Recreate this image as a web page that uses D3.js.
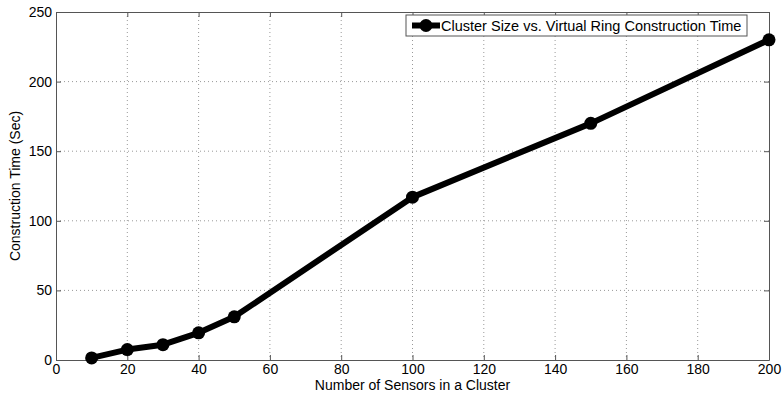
<!DOCTYPE html>
<html>
<head>
<meta charset="utf-8">
<script src="https://cdn.jsdelivr.net/npm/d3@7"></script>
<style>
  body { margin: 0; background: #fff; }
  svg text { font-family: "Liberation Sans", Arial, sans-serif; }
</style>
</head>
<body>
<svg id="chart" width="782" height="397"></svg>
<script>
// cluster sizes and measured construction times
const sensors = [10, 20, 30, 40, 50, 100, 150, 200];
const times = [1.5, 7.5, 11, 19.5, 31, 117, 170, 230];
const xTicks = [0, 20, 40, 60, 80, 100, 120, 140, 160, 180, 200];
const yTicks = [0, 50, 100, 150, 200, 250];
const seriesName = "Cluster Size vs. Virtual Ring Construction Time";

const svg = d3.select("#chart");
const margin = { top: 12, right: 13, bottom: 37, left: 56 };
const width = +svg.attr("width") - margin.left - margin.right;
const height = +svg.attr("height") - margin.top - margin.bottom;

const x = d3.scaleLinear().domain([0, 200]).range([0, width]);
const y = d3.scaleLinear().domain([0, 250]).range([height, 0]);

const g = svg.append("g").attr("transform", `translate(${margin.left},${margin.top})`);

// grid
g.append("g").selectAll("line")
  .data(xTicks.slice(1, -1))
  .enter().append("line")
    .attr("x1", d => x(d)).attr("x2", d => x(d))
    .attr("y1", 0).attr("y2", height)
    .attr("stroke", "#999").attr("stroke-dasharray", "1,3");
g.append("g").selectAll("line")
  .data(yTicks.slice(1, -1))
  .enter().append("line")
    .attr("x1", 0).attr("x2", width)
    .attr("y1", d => y(d)).attr("y2", d => y(d))
    .attr("stroke", "#999").attr("stroke-dasharray", "1,3");

// axes, ticks pointing inward, box on all sides
const axisColor = "#555";
const fmt = d3.format("d");
const axBottom = g.append("g").attr("transform", `translate(0,${height})`)
  .call(d3.axisBottom(x).tickValues(xTicks).tickFormat(fmt).tickSizeInner(-5).tickSizeOuter(0).tickPadding(4));
const axLeft = g.append("g")
  .call(d3.axisLeft(y).tickValues(yTicks).tickFormat(fmt).tickSizeInner(-5).tickSizeOuter(0).tickPadding(4));
const axTop = g.append("g")
  .call(d3.axisTop(x).tickValues(xTicks).tickFormat("").tickSizeInner(-5).tickSizeOuter(0));
const axRight = g.append("g").attr("transform", `translate(${width},0)`)
  .call(d3.axisRight(y).tickValues(yTicks).tickFormat("").tickSizeInner(-5).tickSizeOuter(0));

[axBottom, axLeft, axTop, axRight].forEach(a => {
  a.selectAll("path, line").attr("stroke", axisColor);
  a.selectAll("text").attr("fill", "#000").style("font-size", "14px");
});

// line + markers
const pts = sensors.map((s, i) => [s, times[i]]);
g.append("path")
  .datum(pts)
  .attr("fill", "none")
  .attr("stroke", "#000")
  .attr("stroke-width", 6)
  .attr("stroke-linejoin", "round")
  .attr("d", d3.line().x(d => x(d[0])).y(d => y(d[1])));
g.selectAll("circle.pt")
  .data(pts)
  .enter().append("circle")
    .attr("class", "pt")
    .attr("cx", d => x(d[0]))
    .attr("cy", d => y(d[1]))
    .attr("r", 6.5)
    .attr("fill", "#000");

// legend
const lg = g.append("g").attr("transform", `translate(${width - 363},3)`);
lg.append("rect")
  .attr("width", 341).attr("height", 21)
  .attr("fill", "#fff").attr("stroke", axisColor);
lg.append("line")
  .attr("x1", 6).attr("x2", 34).attr("y1", 10.5).attr("y2", 10.5)
  .attr("stroke", "#000").attr("stroke-width", 6);
lg.append("circle").attr("cx", 20).attr("cy", 10.5).attr("r", 6.5).attr("fill", "#000");
lg.append("text")
  .attr("x", 35).attr("y", 15.5)
  .style("font-size", "14.5px")
  .text(seriesName);

// axis titles
svg.append("text")
  .attr("x", margin.left + width / 2).attr("y", 390)
  .attr("text-anchor", "middle")
  .style("font-size", "14px")
  .text("Number of Sensors in a Cluster");
svg.append("text")
  .attr("transform", `translate(20,${margin.top + height / 2}) rotate(-90)`)
  .attr("text-anchor", "middle")
  .style("font-size", "14px")
  .text("Construction Time (Sec)");
</script>
</body>
</html>
